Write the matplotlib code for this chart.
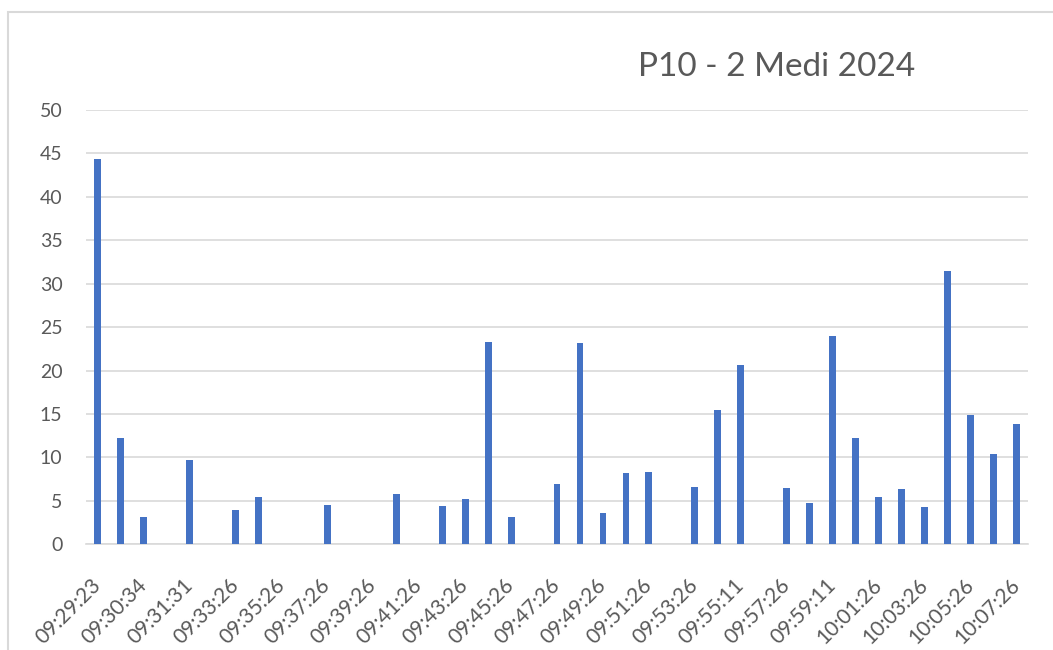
import numpy as np
import matplotlib
matplotlib.use('Agg')
import matplotlib.pyplot as plt
from matplotlib.patches import Rectangle

# ----------- Dados -----------

etiquetas = ['09:29:23', '09:30:34', '09:31:31', '09:33:26', '09:35:26', '09:37:26',
             '09:39:26', '09:41:26', '09:43:26', '09:45:26', '09:47:26', '09:49:26',
             '09:51:26', '09:53:26', '09:55:11', '09:57:26', '09:59:11', '10:01:26',
             '10:03:26', '10:05:26', '10:07:26']

valores = [44.3, 12.2, 3.2, 0, 9.7, 0, 3.9, 5.5, 0, 0,
           4.5, 0, 0, 5.8, 0, 4.4, 5.2, 23.3, 3.2, 0,
           6.9, 23.2, 3.6, 8.2, 8.3, 0, 6.6, 15.5, 20.6, 0,
           6.5, 4.7, 24.0, 12.2, 5.4, 6.4, 4.3, 31.5, 14.9, 10.4,
           13.9]

titulo = 'P10 - 2 Medi 2024'

# ----------- Gráfico -----------

plt.rcParams['font.family'] = ['Lato', 'DejaVu Sans']
cinza = '#595959'

fig = plt.figure(figsize=(10.53, 6.5), dpi=100)
ax = fig.add_axes([0.0817, 0.1626, 0.8946, 0.6682])

# moldura do gráfico (estilo Excel)
fig.patches.append(Rectangle((8 / 1053, -0.1), 1.2, 1 - 12 / 650 + 0.1, transform=fig.transFigure,
                             fill=False, edgecolor='#D9D9D9', linewidth=1.5))

x = np.arange(len(valores))
ax.bar(x, valores, width=0.3, color='#4472C4', zorder=3)

ax.set_xlim(-0.5, len(valores) - 0.5)
ax.set_ylim(0, 50)
ax.set_yticks(range(0, 51, 5))
ax.yaxis.grid(True, color='#D9D9D9', linewidth=1.2, zorder=0)

ax.set_xticks(x[::2])
ax.set_xticklabels(etiquetas, rotation=45, ha='right', va='center', rotation_mode='anchor')

for lado in ['top', 'right', 'left']:
    ax.spines[lado].set_visible(False)
ax.spines['bottom'].set_color('#D9D9D9')
ax.spines['bottom'].set_linewidth(1.2)

ax.tick_params(axis='both', length=0, colors=cinza)
ax.tick_params(axis='y', pad=17, labelsize=14)
ax.tick_params(axis='x', pad=27, labelsize=15)

fig.text(0.738, 0.897, titulo, fontsize=24, color=cinza, ha='center', va='center')

fig.savefig('out.png', dpi=100, facecolor='white')
